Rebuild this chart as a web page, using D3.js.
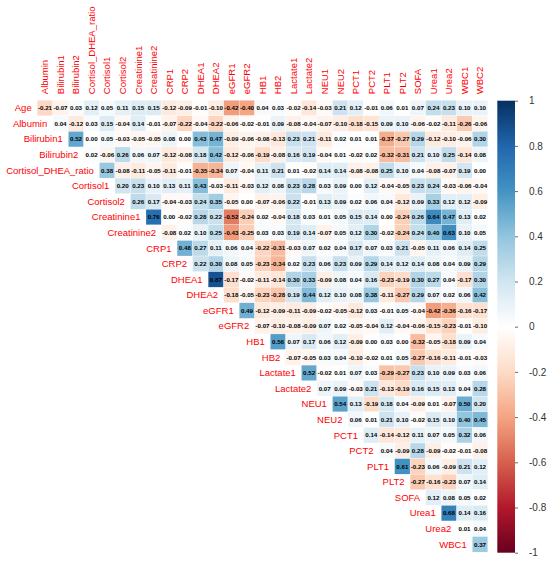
<!DOCTYPE html>
<html>
<head>
<meta charset="utf-8">
<script src="https://cdn.jsdelivr.net/npm/d3@7"></script>
<style>
  html, body { margin: 0; padding: 0; background: #fff; }
  svg { display: block; }
</style>
</head>
<body>
<svg id="chart" width="550" height="561"></svg>
<script>
const variables = ["Age","Albumin","Bilirubin1","Bilirubin2","Cortisol_DHEA_ratio","Cortisol1","Cortisol2",
  "Creatinine1","Creatinine2","CRP1","CRP2","DHEA1","DHEA2","eGFR1","eGFR2","HB1","HB2","Lactate1","Lactate2",
  "NEU1","NEU2","PCT1","PCT2","PLT1","PLT2","SOFA","Urea1","Urea2","WBC1","WBC2"];

// Upper-triangle correlations, row by row (each row starts at the next variable)
const rowAge = [-0.21,-0.07,0.03,0.12,0.05,0.11,0.15,0.15,-0.12,-0.09,-0.01,-0.10,-0.42,-0.40,0.04,0.03,-0.02,-0.14,-0.03,0.21,0.12,-0.01,0.06,0.01,0.07,0.24,0.23,0.10,0.10];
const rowAlbumin = [0.04,-0.12,0.03,0.15,-0.04,0.14,-0.01,-0.07,-0.22,-0.04,-0.22,-0.06,-0.02,-0.01,0.09,-0.08,-0.04,-0.07,-0.10,-0.18,-0.15,0.09,0.10,-0.06,-0.02,-0.11,-0.26,-0.06];
const rowBilirubin1 = [0.52,0.00,0.05,-0.03,-0.05,-0.05,0.08,0.00,0.43,0.47,-0.09,-0.06,-0.08,-0.13,0.23,0.21,-0.11,0.02,0.01,0.01,-0.37,-0.27,0.29,-0.12,-0.10,-0.06,0.30];
const rowBilirubin2 = [0.02,-0.06,0.26,0.06,0.07,-0.12,-0.08,0.18,0.42,-0.12,-0.06,-0.19,-0.08,0.16,0.19,-0.04,0.01,-0.02,0.02,-0.32,-0.31,0.21,0.10,0.25,-0.14,0.08];
const rowCortisolDHEA = [0.38,-0.08,-0.11,-0.05,-0.11,-0.01,-0.35,-0.34,0.07,-0.04,0.11,0.21,0.01,-0.02,0.14,0.14,-0.08,-0.08,0.25,0.10,0.04,-0.08,-0.07,0.19,0.00];
const rowCortisol1 = [0.20,0.23,0.10,0.13,0.11,0.43,-0.03,-0.11,-0.03,0.12,0.08,0.23,0.28,0.03,0.09,0.00,0.12,-0.04,-0.05,0.23,0.24,-0.03,-0.06,-0.04];
const rowCortisol2 = [0.26,0.17,-0.04,-0.03,0.24,0.35,-0.05,0.00,-0.07,-0.06,0.22,-0.01,0.13,0.09,0.02,0.06,0.04,-0.12,0.09,0.33,0.12,0.12,-0.09];
const rowCreatinine1 = [0.76,0.00,-0.02,0.28,0.22,-0.52,-0.24,0.02,-0.04,0.18,0.03,0.01,0.05,0.15,0.14,0.00,-0.24,0.26,0.64,0.47,0.13,0.02];
const rowCreatinine2 = [-0.08,0.02,0.10,0.25,-0.43,-0.25,0.03,0.03,0.19,0.14,-0.07,0.05,0.12,0.30,-0.02,-0.24,0.24,0.40,0.63,0.10,0.05];
const rowCRP1 = [0.48,0.27,0.11,0.06,0.04,-0.22,-0.31,-0.03,0.07,0.02,0.04,0.17,0.07,0.03,0.21,-0.05,0.11,0.06,0.14,0.25];
const rowCRP2 = [0.22,0.30,0.08,0.05,-0.23,-0.34,0.02,0.23,0.06,0.23,0.09,0.29,0.14,0.12,0.14,0.08,0.04,0.09,0.29];
const rowDHEA1 = [0.87,-0.17,-0.02,-0.11,-0.14,0.30,0.33,-0.09,0.08,0.04,0.16,-0.23,-0.19,0.30,0.27,0.04,-0.17,0.30];
const rowDHEA2 = [-0.18,-0.05,-0.23,-0.28,0.19,0.44,0.12,0.10,0.08,0.38,-0.11,-0.27,0.29,0.07,0.02,0.06,0.42];
const rowEGFR1 = [0.49,-0.12,-0.09,-0.11,-0.09,-0.02,-0.05,-0.12,0.03,-0.01,0.05,-0.04,-0.42,-0.36,-0.16,-0.17];
const rowEGFR2 = [-0.07,-0.10,-0.08,-0.09,0.07,0.02,-0.05,-0.04,0.12,-0.04,-0.06,-0.15,-0.23,-0.01,-0.10];
const rowHB1 = [0.56,0.07,0.17,0.06,0.12,-0.09,0.00,0.03,0.00,-0.32,-0.05,-0.18,0.09,0.04];
const rowHB2 = [-0.07,-0.05,0.03,0.04,-0.10,-0.02,0.01,0.05,-0.27,-0.16,-0.11,-0.01,-0.03];
const rowLactate1 = [0.52,-0.02,0.01,0.07,0.03,-0.29,-0.27,0.23,0.10,0.09,0.03,0.06];
const rowLactate2 = [0.07,0.09,-0.03,0.21,-0.13,-0.19,0.16,0.15,0.13,0.04,0.28];
const rowNEU1 = [0.54,0.13,-0.19,0.18,0.04,-0.09,0.01,-0.07,0.50,0.20];
const rowNEU2 = [0.06,0.01,0.21,0.10,-0.02,0.15,0.10,0.40,0.45];
const rowPCT1 = [0.14,-0.14,-0.12,0.11,0.07,0.05,0.32,0.06];
const rowPCT2 = [0.04,-0.09,0.28,-0.09,-0.02,-0.01,-0.08];
const rowPLT1 = [0.61,-0.23,0.06,-0.09,0.21,0.12];
const rowPLT2 = [-0.27,-0.16,-0.23,0.07,0.14];
const rowSOFA = [0.12,0.08,0.05,0.02];
const rowUrea1 = [0.68,0.14,0.16];
const rowUrea2 = [0.01,0.04];
const rowWBC1 = [0.37];

const upperRows = [rowAge,rowAlbumin,rowBilirubin1,rowBilirubin2,rowCortisolDHEA,rowCortisol1,rowCortisol2,
  rowCreatinine1,rowCreatinine2,rowCRP1,rowCRP2,rowDHEA1,rowDHEA2,rowEGFR1,rowEGFR2,rowHB1,rowHB2,
  rowLactate1,rowLactate2,rowNEU1,rowNEU2,rowPCT1,rowPCT2,rowPLT1,rowPLT2,rowSOFA,rowUrea1,rowUrea2,rowWBC1];

const legendTicks = [1,0.8,0.6,0.4,0.2,0,-0.2,-0.4,-0.6,-0.8,-1];
const paletteColors = ["#67001F","#B2182B","#D6604D","#F4A582","#FDDBC7","#FFFFFF","#D1E5F0","#92C5DE","#4393C3","#2166AC","#053061"];

// ---- drawing ----
const svg = d3.select("#chart");
const FONT = "'Liberation Sans', Arial, Helvetica, sans-serif";

const rowNames = variables.slice(0, variables.length - 1);
const colNames = variables.slice(1);

const x = d3.scaleBand().domain(colNames).range([37.2, 487.8]).padding(0);
const y = d3.scaleBand().domain(rowNames).range([100.2, 552.1]).padding(0);

const color = d3.scaleLinear()
  .domain(d3.range(paletteColors.length).map(i => -1 + 2 * i / (paletteColors.length - 1)))
  .range(paletteColors)
  .interpolate(d3.interpolateRgb)
  .clamp(true);

const cells = [];
upperRows.forEach((vals, i) => {
  vals.forEach((v, k) => {
    cells.push({ row: rowNames[i], col: variables[i + 1 + k], value: v });
  });
});

const g = svg.append("g");
g.selectAll("rect.cell").data(cells).join("rect")
  .attr("class", "cell")
  .attr("x", d => x(d.col))
  .attr("y", d => y(d.row))
  .attr("width", x.bandwidth())
  .attr("height", y.bandwidth())
  .attr("fill", d => color(d.value))
  .attr("stroke", "#fff")
  .attr("stroke-width", 0.3);

g.selectAll("text.val").data(cells).join("text")
  .attr("class", "val")
  .attr("x", d => x(d.col) + x.bandwidth() / 2)
  .attr("y", d => y(d.row) + y.bandwidth() / 2)
  .attr("dy", "0.36em")
  .attr("text-anchor", "middle")
  .attr("font-family", FONT)
  .attr("font-size", 6.2)
  .attr("font-weight", "bold")
  .attr("fill", "#000")
  .text(d => d3.format(".2f")(d.value).replace("−", "-"));

// Column labels (rotated)
svg.append("g").selectAll("text").data(colNames).join("text")
  .attr("transform", d => `translate(${x(d) + x.bandwidth() / 2}, ${y.range()[0] - 6}) rotate(-90)`)
  .attr("dy", "0.35em")
  .attr("text-anchor", "start")
  .attr("font-family", FONT)
  .attr("font-size", 9.5)
  .attr("fill", "#FF0000")
  .text(d => d);

// Row labels
svg.append("g").selectAll("text").data(rowNames).join("text")
  .attr("x", (d, i) => x(variables[i + 1]) - 5.5)
  .attr("y", d => y(d) + y.bandwidth() / 2)
  .attr("dy", "0.35em")
  .attr("text-anchor", "end")
  .attr("font-family", FONT)
  .attr("font-size", 9.5)
  .attr("fill", "#FF0000")
  .text(d => d);

// Color legend
const legY = d3.scaleLinear().domain([-1, 1]).range([552.7, 100.7]);
const defs = svg.append("defs");
const grad = defs.append("linearGradient").attr("id", "legGrad")
  .attr("x1", 0).attr("y1", 1).attr("x2", 0).attr("y2", 0);
grad.selectAll("stop").data(color.domain()).join("stop")
  .attr("offset", d => (d + 1) / 2)
  .attr("stop-color", d => color(d));

const legX = 497.3, legW = 17.7;
svg.append("rect")
  .attr("x", legX).attr("y", legY(1))
  .attr("width", legW).attr("height", legY(-1) - legY(1))
  .attr("fill", "url(#legGrad)");

const legAxis = svg.append("g")
  .attr("transform", `translate(${legX + legW},0)`)
  .call(d3.axisRight(legY).tickValues(legendTicks).tickSize(3).tickPadding(11)
    .tickFormat(d => d3.format("")(d).replace("−", "-")));
legAxis.select(".domain").remove();
legAxis.selectAll(".tick line").attr("stroke", "#444").attr("stroke-width", 0.8);
legAxis.selectAll(".tick text")
  .attr("font-family", FONT)
  .attr("font-size", 10)
  .attr("fill", "#333");
</script>
</body>
</html>
